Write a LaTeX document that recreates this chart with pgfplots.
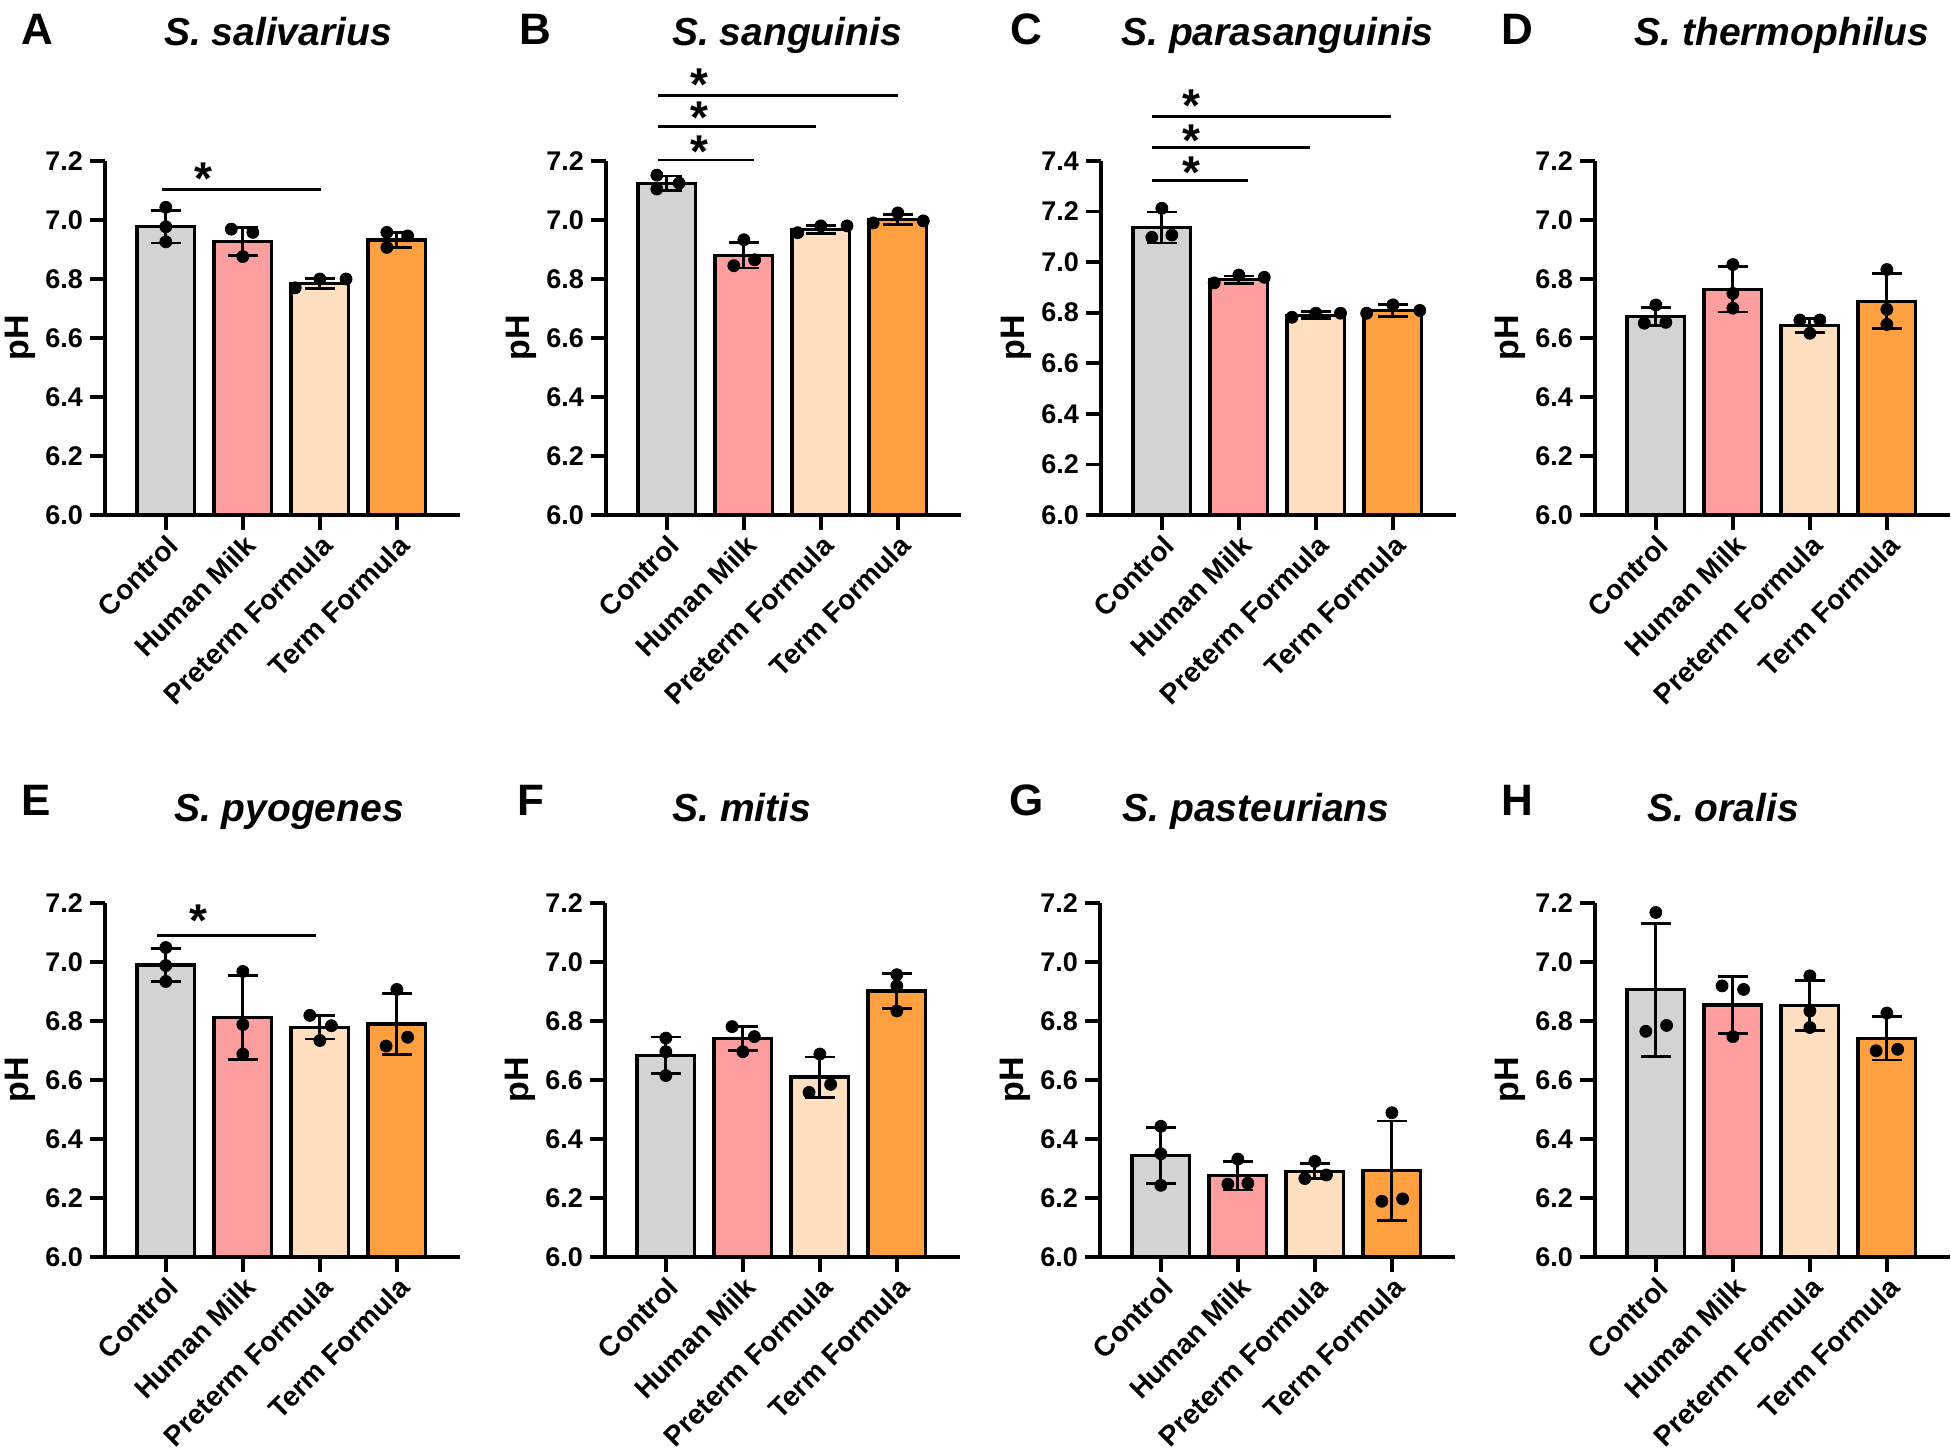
\documentclass[border=0pt]{standalone}
\usepackage{fontspec}
\setmainfont{Liberation Sans}
\usepackage{pgfplots}
\pgfplotsset{compat=1.18}

\definecolor{cctrl}{HTML}{D3D3D3}
\definecolor{chm}{HTML}{FF9E9E}
\definecolor{cpf}{HTML}{FFDFBF}
\definecolor{ctf}{HTML}{FFA040}

\tikzset{star/.style={font=\bfseries\fontsize{23}{23}\selectfont, anchor=base, inner sep=0pt}}

\pgfplotsset{
  panel/.style={
    scale only axis, width=177.5pt, height=177pt, anchor=south west,
    xmin=-0.79, xmax=3.82, ymin=6,
    axis x line*=bottom, axis y line*=left,
    axis line style={line width=1.8pt, -},
    major tick style={line width=1.8pt, black},
    tick align=outside, major tick length=7.5pt,
    xtick={0,1,2,3},
    xticklabels={Control,Human Milk,Preterm Formula,Term Formula},
    xticklabel style={font=\bfseries\fontsize{14}{14}\selectfont, rotate=45, anchor=north east, inner sep=1pt},
    yticklabel style={font=\bfseries\fontsize{13.5}{13.5}\selectfont},
    /pgf/number format/fixed, /pgf/number format/fixed zerofill,
    /pgf/number format/precision=1, /pgf/number format/assume math mode=true,
    ylabel={pH}, ylabel style={font=\bfseries\fontsize{17}{17}\selectfont},
    ylabel shift=-2pt,
  },
  pbar/.style={ybar, bar width=0.75, bar shift=0pt, draw=black, line width=1.6pt, fill=#1,
    error bars/.cd, y dir=both, y explicit,
    error bar style={line width=1.4pt, black},
    error mark options={rotate=90, line width=1.4pt, black, mark size=7.5pt}},
  pdots/.style={only marks, mark=*, mark size=3pt, black},
  sig/.style={scale only axis, width=177.5pt, height=177pt, anchor=south west,
    xmin=-0.79, xmax=3.82, ymin=6, hide axis, clip=false},
  sigline/.style={black, line width=1.4pt},
}

\begin{document}
\begin{tikzpicture}
\path[use as bounding box] (0,0) rectangle (975.5pt,726pt);

% ---- titles and panel letters
\begin{scope}[every node/.style={anchor=base}]
\node[font=\bfseries\fontsize{22}{22}\selectfont] at (18.5pt,703.5pt) {A};
\node[font=\bfseries\fontsize{22}{22}\selectfont] at (267.5pt,703.5pt) {B};
\node[font=\bfseries\fontsize{22}{22}\selectfont] at (513pt,703.5pt) {C};
\node[font=\bfseries\fontsize{22}{22}\selectfont] at (758.5pt,703.5pt) {D};
\node[font=\bfseries\fontsize{22}{22}\selectfont] at (18pt,318pt) {E};
\node[font=\bfseries\fontsize{22}{22}\selectfont] at (265.5pt,318pt) {F};
\node[font=\bfseries\fontsize{22}{22}\selectfont] at (513.5pt,318pt) {G};
\node[font=\bfseries\fontsize{22}{22}\selectfont] at (758.5pt,318pt) {H};
\node[font=\bfseries\itshape\fontsize{19.5}{19.5}\selectfont] at (139pt,703pt) {S. salivarius};
\node[font=\bfseries\itshape\fontsize{19.5}{19.5}\selectfont] at (393.5pt,703pt) {S. sanguinis};
\node[font=\bfseries\itshape\fontsize{19.5}{19.5}\selectfont] at (638.75pt,703pt) {S. parasanguinis};
\node[font=\bfseries\itshape\fontsize{19.5}{19.5}\selectfont] at (891pt,703pt) {S. thermophilus};
\node[font=\bfseries\itshape\fontsize{19.5}{19.5}\selectfont] at (144.5pt,315pt) {S. pyogenes};
\node[font=\bfseries\itshape\fontsize{19.5}{19.5}\selectfont] at (371pt,315pt) {S. mitis};
\node[font=\bfseries\itshape\fontsize{19.5}{19.5}\selectfont] at (628pt,315pt) {S. pasteurians};
\node[font=\bfseries\itshape\fontsize{19.5}{19.5}\selectfont] at (861.5pt,315pt) {S. oralis};
\end{scope}

% ---- A
\begin{axis}[panel, at={(52.5pt,468.5pt)}, ymax=7.2, ytick={6,6.2,6.4,6.6,6.8,7,7.2}]
\addplot[pbar=cctrl] coordinates {(0,6.977) +- (0,0.055)};
\addplot[pbar=chm] coordinates {(1,6.927) +- (0,0.048)};
\addplot[pbar=cpf] coordinates {(2,6.785) +- (0,0.018)};
\addplot[pbar=ctf] coordinates {(3,6.932) +- (0,0.026)};
\addplot[pdots] coordinates {(0,7.043) (0,6.977) (0,6.926) (0.85,6.969) (1.13,6.958) (1,6.876)
  (1.68,6.770) (2,6.800) (2.34,6.800) (2.87,6.958) (2.87,6.907) (3.14,6.946)};
\end{axis}
\begin{axis}[sig, at={(52.5pt,468.5pt)}, ymax=7.2]
\addplot[sigline] coordinates {(-0.05,7.102) (2.01,7.102)};
\node[star] at (axis cs:0.49,7.085) {*};
\end{axis}

% ---- B
\begin{axis}[panel, at={(303pt,468.5pt)}, ymax=7.2, ytick={6,6.2,6.4,6.6,6.8,7,7.2}]
\addplot[pbar=cctrl] coordinates {(0,7.125) +- (0,0.024)};
\addplot[pbar=chm] coordinates {(1,6.880) +- (0,0.043)};
\addplot[pbar=cpf] coordinates {(2,6.967) +- (0,0.013)};
\addplot[pbar=ctf] coordinates {(3,7.002) +- (0,0.017)};
\addplot[pdots] coordinates {(-0.13,7.152) (-0.13,7.105) (0.16,7.125) (1,6.933) (0.87,6.845) (1.14,6.865)
  (1.70,6.957) (2,6.980) (2.34,6.980) (2.68,6.990) (3,7.024) (3.33,6.997)};
\end{axis}
\begin{axis}[sig, at={(303pt,468.5pt)}, ymax=7.2]
\addplot[sigline] coordinates {(-0.11,7.203) (1.13,7.203)};
\addplot[sigline] coordinates {(-0.11,7.317) (1.94,7.317)};
\addplot[sigline] coordinates {(-0.11,7.421) (3.0,7.421)};
\node[star] at (axis cs:0.42,7.178) {*};
\node[star] at (axis cs:0.42,7.294) {*};
\node[star] at (axis cs:0.42,7.404) {*};
\end{axis}

% ---- C
\begin{axis}[panel, at={(550.5pt,468.5pt)}, ymax=7.4, ytick={6,6.2,6.4,6.6,6.8,7,7.2,7.4}]
\addplot[pbar=cctrl] coordinates {(0,7.137) +- (0,0.061)};
\addplot[pbar=chm] coordinates {(1,6.930) +- (0,0.015)};
\addplot[pbar=cpf] coordinates {(2,6.790) +- (0,0.014)};
\addplot[pbar=ctf] coordinates {(3,6.808) +- (0,0.023)};
\addplot[pdots] coordinates {(0,7.213) (-0.13,7.098) (0.13,7.107) (0.68,6.918) (1,6.949) (1.33,6.940)
  (1.69,6.782) (2,6.798) (2.32,6.798) (2.66,6.798) (3,6.831) (3.35,6.809)};
\end{axis}
\begin{axis}[sig, at={(550.5pt,468.5pt)}, ymax=7.4]
\addplot[sigline] coordinates {(-0.13,7.322) (1.12,7.322)};
\addplot[sigline] coordinates {(-0.13,7.453) (1.92,7.453)};
\addplot[sigline] coordinates {(-0.13,7.576) (2.97,7.576)};
\node[star] at (axis cs:0.38,7.291) {*};
\node[star] at (axis cs:0.38,7.419) {*};
\node[star] at (axis cs:0.38,7.555) {*};
\end{axis}

% ---- D
\begin{axis}[panel, at={(797.5pt,468.5pt)}, ymax=7.2, ytick={6,6.2,6.4,6.6,6.8,7,7.2}]
\addplot[pbar=cctrl] coordinates {(0,6.673) +- (0,0.031)};
\addplot[pbar=chm] coordinates {(1,6.765) +- (0,0.077)};
\addplot[pbar=cpf] coordinates {(2,6.642) +- (0,0.023)};
\addplot[pbar=ctf] coordinates {(3,6.725) +- (0,0.093)};
\addplot[pdots] coordinates {(0,6.712) (-0.15,6.650) (0.13,6.653) (1,6.849) (1,6.751) (1,6.701)
  (1.87,6.661) (2.13,6.661) (2,6.616) (3,6.832) (3,6.697) (3,6.646)};
\end{axis}

% ---- E
\begin{axis}[panel, at={(52.5pt,97.5pt)}, ymax=7.2, ytick={6,6.2,6.4,6.6,6.8,7,7.2}]
\addplot[pbar=cctrl] coordinates {(0,6.990) +- (0,0.055)};
\addplot[pbar=chm] coordinates {(1,6.812) +- (0,0.142)};
\addplot[pbar=cpf] coordinates {(2,6.779) +- (0,0.040)};
\addplot[pbar=ctf] coordinates {(3,6.790) +- (0,0.103)};
\addplot[pdots] coordinates {(0,7.049) (0,6.988) (0,6.934) (1,6.968) (1,6.788) (1,6.688)
  (1.87,6.819) (2.15,6.784) (2,6.734) (3,6.907) (2.86,6.715) (3.14,6.745)};
\end{axis}
\begin{axis}[sig, at={(52.5pt,97.5pt)}, ymax=7.2]
\addplot[sigline] coordinates {(-0.11,7.091) (1.95,7.091)};
\node[star] at (axis cs:0.42,7.085) {*};
\end{axis}

% ---- F
\begin{axis}[panel, at={(302.5pt,97.5pt)}, ymax=7.2, ytick={6,6.2,6.4,6.6,6.8,7,7.2}]
\addplot[pbar=cctrl] coordinates {(0,6.684) +- (0,0.062)};
\addplot[pbar=chm] coordinates {(1,6.740) +- (0,0.041)};
\addplot[pbar=cpf] coordinates {(2,6.610) +- (0,0.068)};
\addplot[pbar=ctf] coordinates {(3,6.902) +- (0,0.060)};
\addplot[pdots] coordinates {(0,6.742) (0,6.696) (0,6.615) (0.86,6.781) (1.15,6.747) (1,6.696)
  (2,6.688) (1.86,6.558) (2.14,6.585) (3,6.957) (3,6.919) (3,6.834)};
\end{axis}

% ---- G
\begin{axis}[panel, at={(550pt,97.5pt)}, ymax=7.2, ytick={6,6.2,6.4,6.6,6.8,7,7.2}]
\addplot[pbar=cctrl] coordinates {(0,6.344) +- (0,0.094)};
\addplot[pbar=chm] coordinates {(1,6.275) +- (0,0.048)};
\addplot[pbar=cpf] coordinates {(2,6.291) +- (0,0.026)};
\addplot[pbar=ctf] coordinates {(3,6.292) +- (0,0.169)};
\addplot[pdots] coordinates {(0,6.443) (0,6.350) (0,6.243) (1,6.332) (0.87,6.247) (1.13,6.250)
  (2,6.324) (1.87,6.266) (2.15,6.278) (3,6.489) (2.87,6.189) (3.14,6.197)};
\end{axis}

% ---- H
\begin{axis}[panel, at={(797.5pt,97.5pt)}, ymax=7.2, ytick={6,6.2,6.4,6.6,6.8,7,7.2}]
\addplot[pbar=cctrl] coordinates {(0,6.906) +- (0,0.225)};
\addplot[pbar=chm] coordinates {(1,6.854) +- (0,0.096)};
\addplot[pbar=cpf] coordinates {(2,6.853) +- (0,0.085)};
\addplot[pbar=ctf] coordinates {(3,6.742) +- (0,0.074)};
\addplot[pdots] coordinates {(0,7.168) (-0.13,6.765) (0.14,6.785) (0.86,6.919) (1.14,6.907) (1,6.747)
  (2,6.953) (2,6.834) (2,6.778) (3,6.827) (2.86,6.699) (3.14,6.704)};
\end{axis}
\end{tikzpicture}
\end{document}
